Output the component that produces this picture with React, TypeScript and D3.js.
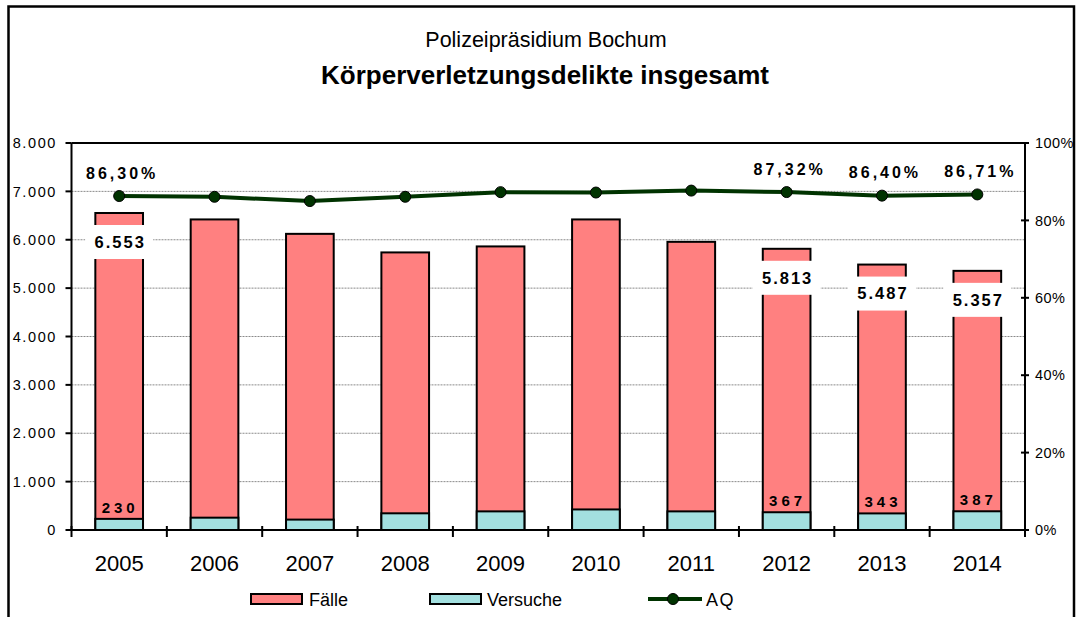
import React from 'react';
import * as d3 from 'd3';

const years = ['2005', '2006', '2007', '2008', '2009', '2010', '2011', '2012', '2013', '2014'];
const faelle = [6553, 6420, 6122, 5738, 5862, 6420, 5957, 5813, 5487, 5357];
const versuche = [230, 255, 215, 345, 385, 425, 385, 367, 343, 387];
const aq = [86.3, 86.1, 85.0, 86.1, 87.3, 87.2, 87.7, 87.32, 86.4, 86.71];
const labeledYears = ['2005', '2012', '2013', '2014'];
const leftTicks = [0, 1000, 2000, 3000, 4000, 5000, 6000, 7000, 8000];
const rightTicks = [0, 20, 40, 60, 80, 100];
const subtitle = 'Polizeipräsidium Bochum';
const title = 'Körperverletzungsdelikte insgesamt';
const legendItems = ['Fälle', 'Versuche', 'AQ'];

const FONT = '"Liberation Sans", Arial, Helvetica, sans-serif';
const RED = '#FF8080';
const CYAN = '#A3E0E0';
const GREEN = '#003300';

const fmtInt = (v: number) => d3.format(',')(v).replace(/,/g, '.');
const fmtPct = (v: number) => v.toFixed(2).replace('.', ',') + '%';

export default function App() {
  const W = 1077, H = 617;
  const left = 71.5, right = 1025, top = 143, bottom = 530;

  const x = d3.scaleBand<string>().domain(years).range([left, right]).paddingInner(0.5).paddingOuter(0.25);
  const y = d3.scaleLinear().domain([0, 8000]).range([bottom, top]);
  const yR = d3.scaleLinear().domain([0, 100]).range([bottom, top]);
  const bw = x.bandwidth();
  const step = (right - left) / years.length;
  const cx = (yr: string) => (x(yr) as number) + bw / 2;

  const line = d3.line<number>()
    .x((_, i) => cx(years[i]))
    .y((d) => yR(d));

  return (
    <svg width={W} height={H} style={{ position: 'absolute', left: 0, top: 0, background: '#fff' }} fontFamily={FONT}>
      <rect x={0} y={0} width={W} height={H} fill="#fff" />
      {/* titles */}
      <text x={546} y={47} textAnchor="middle" fontSize={21.5} fill="#000">{subtitle}</text>
      <text x={545} y={84} textAnchor="middle" fontSize={26} fontWeight="bold" fill="#000">{title}</text>

      {/* gridlines */}
      {leftTicks.filter((t) => t > 0 && t < 8000).map((t) => (
        <line key={'g' + t} x1={left} x2={right} y1={y(t)} y2={y(t)} stroke="#8a8a8a" strokeWidth={1} strokeDasharray="2,1" />
      ))}

      {/* bars */}
      {years.map((yr, i) => (
        <rect key={'f' + yr} x={x(yr)} y={y(faelle[i])} width={bw} height={bottom - y(faelle[i])} fill={RED} stroke="#000" strokeWidth={2} />
      ))}
      {years.map((yr, i) => (
        <rect key={'v' + yr} x={x(yr)} y={y(versuche[i])} width={bw} height={bottom - y(versuche[i])} fill={CYAN} stroke="#000" strokeWidth={2} />
      ))}

      {/* Fälle labels */}
      {years.map((yr, i) => labeledYears.includes(yr) ? (
        <g key={'fl' + yr}>
          <rect x={cx(yr) - 34} y={y(faelle[i]) + 29 - 17} width={68} height={34} fill="#fff" />
          <text x={cx(yr) + 1} y={y(faelle[i]) + 29} dy="0.35em" textAnchor="middle" fontSize={16.5} fontWeight="bold" letterSpacing={2} fill="#000">{fmtInt(faelle[i])}</text>
        </g>
      ) : null)}

      {/* Versuche labels */}
      {years.map((yr, i) => labeledYears.includes(yr) ? (
        <text key={'vl' + yr} x={cx(yr) + 1} y={y(versuche[i]) - 6} textAnchor="middle" fontSize={15} fontWeight="bold" letterSpacing={4} fill="#000">{fmtInt(versuche[i])}</text>
      ) : null)}

      {/* AQ labels */}
      {years.map((yr, i) => labeledYears.includes(yr) ? (
        <g key={'al' + yr}>
          <rect x={cx(yr) - 33} y={yR(aq[i]) - 23 - 11} width={72} height={22} fill="#fff" />
          <text x={cx(yr) + 3} y={yR(aq[i]) - 23} dy="0.35em" textAnchor="middle" fontSize={16} fontWeight="bold" letterSpacing={3} fill="#000">{fmtPct(aq[i])}</text>
        </g>
      ) : null)}

      {/* AQ line */}
      <path d={line(aq) || ''} fill="none" stroke={GREEN} strokeWidth={4} strokeLinejoin="round" />
      {years.map((yr, i) => (
        <circle key={'m' + yr} cx={cx(yr)} cy={yR(aq[i])} r={5.5} fill={GREEN} stroke="#000" strokeWidth={1} />
      ))}

      {/* axes */}
      <line x1={left} x2={right} y1={top} y2={top} stroke="#000" strokeWidth={2} />
      <line x1={left} x2={left} y1={top} y2={bottom} stroke="#000" strokeWidth={2} />
      <line x1={right} x2={right} y1={top} y2={bottom} stroke="#000" strokeWidth={2} />
      <line x1={left} x2={right} y1={bottom} y2={bottom} stroke="#000" strokeWidth={2} />

      {leftTicks.map((t) => (
        <g key={'lt' + t}>
          <line x1={left - 6} x2={left} y1={y(t)} y2={y(t)} stroke="#000" strokeWidth={2} />
          <text x={57} y={y(t)} dy="0.36em" textAnchor="end" fontSize={14.5} letterSpacing={1.6} fill="#000">{fmtInt(t)}</text>
        </g>
      ))}
      {rightTicks.map((t) => (
        <g key={'rt' + t}>
          <line x1={right - 4} x2={right + 4} y1={yR(t)} y2={yR(t)} stroke="#000" strokeWidth={2} />
          <text x={1035} y={yR(t)} dy="0.36em" textAnchor="start" fontSize={14.5} letterSpacing={0.4} fill="#000">{t + '%'}</text>
        </g>
      ))}
      {d3.range(years.length + 1).map((k) => (
        <line key={'bt' + k} x1={left + k * step} x2={left + k * step} y1={bottom - 4} y2={bottom + 7} stroke="#000" strokeWidth={2} />
      ))}
      {years.map((yr) => (
        <text key={'yl' + yr} x={cx(yr)} y={571} textAnchor="middle" fontSize={22} fill="#000">{yr}</text>
      ))}

      {/* legend */}
      <rect x={251} y={594} width={51} height={10} fill={RED} stroke="#000" strokeWidth={2} />
      <text x={309} y={605.5} fontSize={18} fill="#000">{legendItems[0]}</text>
      <rect x={430} y={594} width={51} height={10} fill={CYAN} stroke="#000" strokeWidth={2} />
      <text x={487} y={605.5} fontSize={18} fill="#000">{legendItems[1]}</text>
      <line x1={648} x2={702} y1={599} y2={599} stroke={GREEN} strokeWidth={4} />
      <circle cx={673} cy={599} r={5.5} fill={GREEN} stroke="#000" strokeWidth={1} />
      <text x={706} y={605.5} fontSize={18} letterSpacing={1.5} fill="#000">{legendItems[2]}</text>

      {/* frame */}
      <path d={`M8.5,${H + 5} V6.5 H1074 V${H + 5}`} fill="none" stroke="#000" strokeWidth={2.5} />
    </svg>
  );
}
